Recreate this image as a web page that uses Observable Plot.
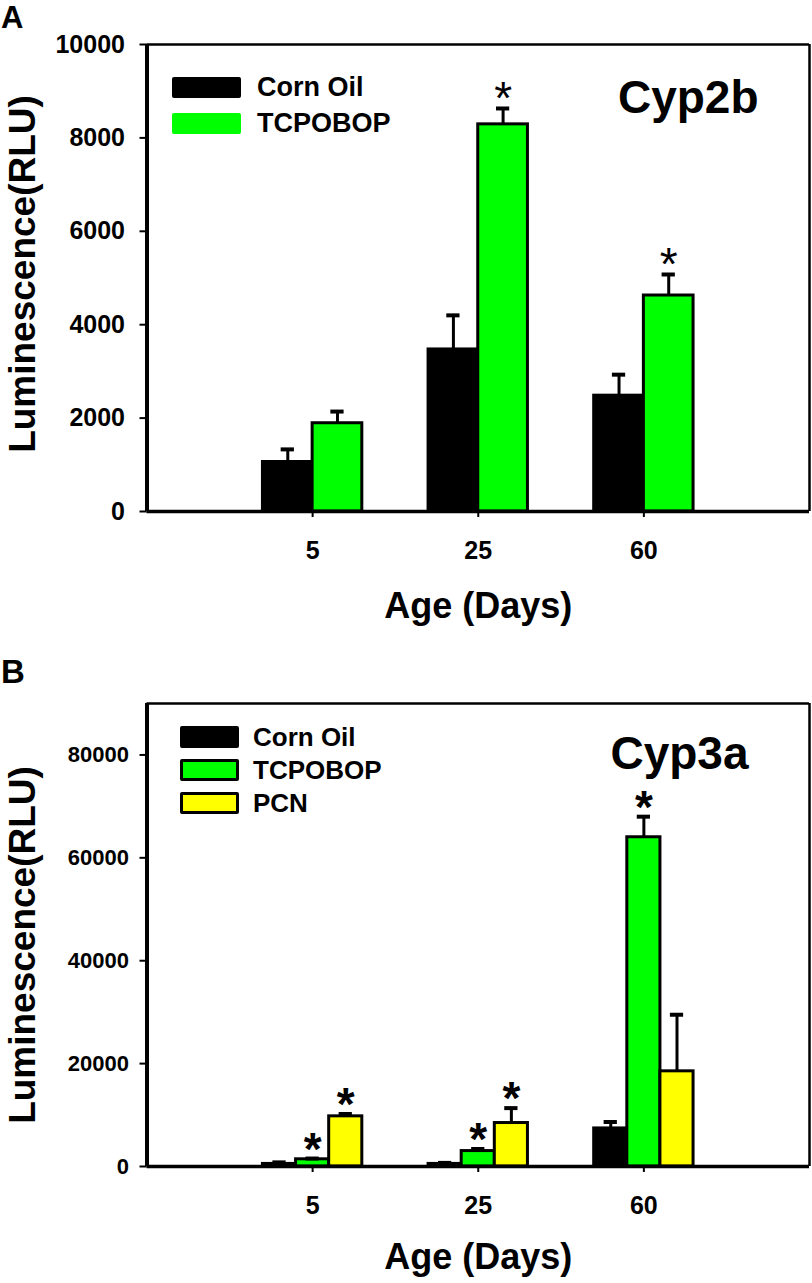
<!DOCTYPE html>
<html>
<head>
<meta charset="utf-8">
<script src="https://cdn.jsdelivr.net/npm/d3@7"></script>
<script src="https://cdn.jsdelivr.net/npm/@observablehq/plot@0.6"></script>
<style>
  html, body { margin: 0; padding: 0; background: #fff; }
  #wrap { position: relative; width: 812px; height: 1283px; overflow: hidden;
          font-family: "Liberation Sans", Arial, sans-serif; font-weight: bold; color: #000; }
  .abs { position: absolute; white-space: nowrap; }
  svg { display: block; }
</style>
</head>
<body>
<div id="wrap">
  <div id="chartA" class="abs" style="left:0;top:0"></div>
  <div id="chartB" class="abs" style="left:0;top:640px"></div>
</div>
<script>
// ---------- data ----------
const ages = ["5", "25", "60"];

// Panel A: Cyp2b
const seriesA = ["Corn Oil", "TCPOBOP"];
const colorsA = ["#000000", "#00ff00"];
const cyp2bCornOil = [1060, 3470, 2480];
const cyp2bCornOilSE = [270, 730, 450];
const cyp2bTCPOBOP = [1890, 8290, 4625];
const cyp2bTCPOBOPSE = [250, 340, 450];
const cyp2bCornOilStar = [false, false, false];
const cyp2bTCPOBOPStar = [false, true, true];
const yTicksA = [0, 2000, 4000, 6000, 8000, 10000];

// Panel B: Cyp3a
const seriesB = ["Corn Oil", "TCPOBOP", "PCN"];
const colorsB = ["#000000", "#00ff00", "#ffff00"];
const cyp3aCornOil = [500, 500, 7400];
const cyp3aCornOilSE = [300, 200, 1250];
const cyp3aTCPOBOP = [1400, 3000, 64000];
const cyp3aTCPOBOPSE = [150, 400, 4000];
const cyp3aPCN = [9750, 8450, 18500];
const cyp3aPCNSE = [450, 2900, 11000];
const cyp3aCornOilStar = [false, false, false];
const cyp3aTCPOBOPStar = [true, true, true];
const cyp3aPCNStar = [true, true, false];
const yTicksB = [0, 20000, 40000, 60000, 80000];

const FONT = "Liberation Sans, Arial, sans-serif";

function buildRows(values, ses, stars, colors) {
  const n = values.length;
  const rows = [];
  values.forEach((vals, s) => {
    vals.forEach((v, g) => {
      const w = 0.6 / n;
      const x1 = g + 1 - 0.3 + s * w;
      rows.push({g: g + 1, s, x1, x2: x1 + w, c: x1 + w / 2,
                 value: v, top: v + ses[s][g], star: stars[s][g], fill: colors[s]});
    });
  });
  return rows;
}

function panel(cfg) {
  const rows = buildRows(cfg.values, cfg.ses, cfg.stars, cfg.colors);
  return Plot.plot({
    width: 812,
    height: cfg.height,
    marginLeft: 146.5,
    marginRight: 3,
    marginTop: cfg.marginTop,
    marginBottom: cfg.marginBottom,
    style: {fontFamily: FONT, fontWeight: "bold", color: "#000", background: "#fff", overflow: "visible"},
    x: {domain: [0, 4], axis: null},
    y: {domain: cfg.yDomain, axis: null},
    marks: [
      Plot.rect(rows, {x1: "x1", x2: "x2", y1: 0, y2: "value", fill: d => d.fill, stroke: "#000", strokeWidth: 3}),
      Plot.ruleX(rows, {x: "c", y1: "value", y2: "top", stroke: "#000", strokeWidth: 3}),
      Plot.ruleY(rows, {y: "top", x1: d => d.c - 0.04, x2: d => d.c + 0.04, stroke: "#000", strokeWidth: 4}),
      Plot.text(rows.filter(d => d.star), {x: "c", y: "top", text: () => "*", lineAnchor: "bottom",
        dy: cfg.starDy, fontSize: cfg.starSize, fontWeight: cfg.starWeight, fill: "#000"}),
      // frame: thin top/right, thick left/bottom
      Plot.ruleY([cfg.yDomain[1]], {stroke: "#000", strokeWidth: 2.5}),
      Plot.ruleX([4], {stroke: "#000", strokeWidth: 2.5}),
      Plot.ruleX([0], {stroke: "#000", strokeWidth: 4}),
      Plot.ruleY([0], {stroke: "#000", strokeWidth: 3.5}),
      Plot.axisY({ticks: cfg.yTicks, tickFormat: d => String(d), tickSize: 7, tickPadding: cfg.yPad,
        fontSize: cfg.yFont, fontWeight: "bold", strokeWidth: 2, label: null}),
      Plot.axisX({ticks: [1, 2, 3], tickFormat: d => ages[d - 1], tickSize: 6, tickPadding: 24,
        fontSize: 25, fontWeight: "bold", strokeWidth: 2, label: null}),
      Plot.text(["Luminescence(RLU)"], {text: d => d, frameAnchor: "left", rotate: -90, dx: -112, dy: cfg.ylabDy,
        lineAnchor: "bottom", textAnchor: "middle", fontSize: 37, fontWeight: "bold", fill: "#000"}),
      Plot.text(["Age (Days)"], {text: d => d, frameAnchor: "bottom", lineAnchor: "bottom", dy: cfg.xlabDy,
        textAnchor: "middle", fontSize: 36, fontWeight: "bold", fill: "#000"}),
      Plot.text([cfg.title], {text: d => d, frameAnchor: "top-right", textAnchor: "end", lineAnchor: "bottom",
        dx: cfg.titleDx, dy: cfg.titleDy, fontSize: 46, fontWeight: "bold", fill: "#000"})
    ]
  });
}

document.getElementById("chartA").appendChild(panel({
  height: 640, marginTop: 44, marginBottom: 129, yDomain: [0, 10000], yTicks: yTicksA,
  values: [cyp2bCornOil, cyp2bTCPOBOP], ses: [cyp2bCornOilSE, cyp2bTCPOBOPSE],
  stars: [cyp2bCornOilStar, cyp2bTCPOBOPStar], colors: colorsA,
  starDy: 6, starSize: 46, starWeight: "normal", yPad: 15, yFont: 25, ylabDy: -4, xlabDy: 106,
  title: "Cyp2b", titleDx: -51, titleDy: 68
}));

document.getElementById("chartB").appendChild(panel({
  height: 643, marginTop: 63, marginBottom: 117, yDomain: [0, 90000], yTicks: yTicksB,
  values: [cyp3aCornOil, cyp3aTCPOBOP, cyp3aPCN], ses: [cyp3aCornOilSE, cyp3aTCPOBOPSE, cyp3aPCNSE],
  stars: [cyp3aCornOilStar, cyp3aTCPOBOPStar, cyp3aPCNStar], colors: colorsB,
  starDy: 6, starSize: 46, starWeight: "bold", yPad: 11, yFont: 22, ylabDy: 10, xlabDy: 102,
  title: "Cyp3a", titleDx: -61, titleDy: 65
}));

// ---------- overlays: panel letters and legends ----------
const wrap = document.getElementById("wrap");
function addDiv(html, style) {
  const d = document.createElement("div");
  d.className = "abs";
  d.innerHTML = html;
  Object.assign(d.style, style);
  wrap.appendChild(d);
  return d;
}
addDiv("A", {left: "1px", top: "2px", fontSize: "31px", lineHeight: "31px"});
addDiv("B", {left: "1px", top: "655px", fontSize: "33px", lineHeight: "33px"});

// Legend A
const legA = {swX: 172, swW: 69, swH: 21, textX: 257, centers: [87, 123]};
seriesA.forEach((name, i) => {
  addDiv("", {left: legA.swX + "px", top: (legA.centers[i] - legA.swH / 2) + "px", width: legA.swW + "px",
    height: legA.swH + "px", background: colorsA[i], borderRadius: "2px"});
  addDiv(name, {left: legA.textX + "px", top: (legA.centers[i] - 13.5) + "px", fontSize: "27px", lineHeight: "27px"});
});
// Legend B
const legB = {swX: 180, swW: 59, swH: 22, textX: 253, centers: [737, 770, 803]};
seriesB.forEach((name, i) => {
  addDiv("", {left: legB.swX + "px", top: (legB.centers[i] - legB.swH / 2) + "px", width: legB.swW + "px",
    height: legB.swH + "px", background: colorsB[i], border: "3px solid #000", boxSizing: "border-box",
    borderRadius: "2px"});
  addDiv(name, {left: legB.textX + "px", top: (legB.centers[i] - 13) + "px", fontSize: "26px", lineHeight: "26px"});
});
</script>
</body>
</html>
